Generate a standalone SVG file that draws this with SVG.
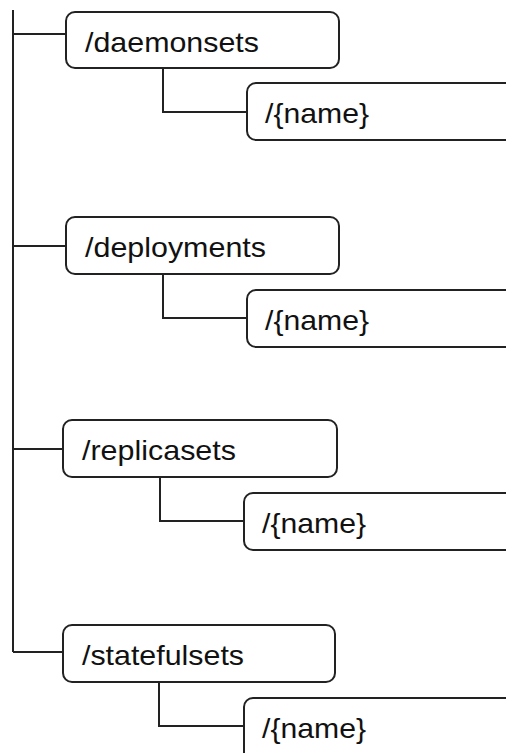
<svg xmlns="http://www.w3.org/2000/svg" width="506" height="753" viewBox="0 0 506 753">
<style>
.box{fill:#fff;stroke:#222;stroke-width:2}
.ln{fill:none;stroke:#222;stroke-width:2}
.t{font-family:"Liberation Sans",Arial,sans-serif;font-size:28px;fill:#111}
</style>
<rect width="506" height="753" fill="#fff"/>
<g id="connectors">
<path class="ln" d="M13 10V652"/>
<path class="ln" d="M13 34H66"/>
<path class="ln" d="M163 68V112H247"/>
<path class="ln" d="M13 246H66"/>
<path class="ln" d="M163 274V318H247"/>
<path class="ln" d="M13 449H63"/>
<path class="ln" d="M160 477V521H244"/>
<path class="ln" d="M13 652H63"/>
<path class="ln" d="M159 682V726H244"/>
</g>
<g id="daemonsets"><rect class="box" x="66" y="12" width="273" height="56" rx="9"/><text class="t" x="85" y="52" textLength="174" lengthAdjust="spacingAndGlyphs">/daemonsets</text></g>
<g id="daemonsets-name"><rect class="box" x="247" y="83" width="290" height="57" rx="9"/><text class="t" x="265" y="123" textLength="104" lengthAdjust="spacingAndGlyphs">/{name}</text></g>
<g id="deployments"><rect class="box" x="66" y="217" width="273" height="57" rx="9"/><text class="t" x="85" y="257" textLength="181" lengthAdjust="spacingAndGlyphs">/deployments</text></g>
<g id="deployments-name"><rect class="box" x="247" y="290" width="290" height="57" rx="9"/><text class="t" x="265" y="330" textLength="104" lengthAdjust="spacingAndGlyphs">/{name}</text></g>
<g id="replicasets"><rect class="box" x="63" y="420" width="274" height="57" rx="9"/><text class="t" x="82" y="460" textLength="154" lengthAdjust="spacingAndGlyphs">/replicasets</text></g>
<g id="replicasets-name"><rect class="box" x="244" y="493" width="290" height="57" rx="9"/><text class="t" x="262" y="533" textLength="104" lengthAdjust="spacingAndGlyphs">/{name}</text></g>
<g id="statefulsets"><rect class="box" x="63" y="625" width="272" height="57" rx="9"/><text class="t" x="82" y="665" textLength="162" lengthAdjust="spacingAndGlyphs">/statefulsets</text></g>
<g id="statefulsets-name"><rect class="box" x="244" y="698" width="290" height="70" rx="9"/><text class="t" x="262" y="738" textLength="104" lengthAdjust="spacingAndGlyphs">/{name}</text></g>
</svg>
